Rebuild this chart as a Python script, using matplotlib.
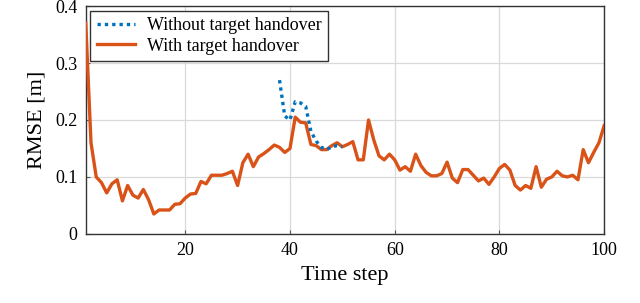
import matplotlib
matplotlib.use("Agg")
import matplotlib.pyplot as plt
import numpy as np

steps = list(range(1, 101))
with_handover = [0.37, 0.16, 0.10, 0.09, 0.072, 0.088, 0.095, 0.058, 0.085, 0.068,
                 0.063, 0.078, 0.060, 0.035, 0.042, 0.042, 0.042, 0.052, 0.053, 0.063,
                 0.070, 0.071, 0.092, 0.088, 0.103, 0.103, 0.103, 0.106, 0.110, 0.085,
                 0.125, 0.140, 0.118, 0.135, 0.141, 0.148, 0.156, 0.152, 0.143, 0.150,
                 0.205, 0.196, 0.195, 0.157, 0.155, 0.148, 0.148, 0.155, 0.160, 0.153,
                 0.157, 0.162, 0.130, 0.130, 0.200, 0.165, 0.137, 0.130, 0.140, 0.130,
                 0.112, 0.118, 0.110, 0.140, 0.120, 0.108, 0.102, 0.102, 0.106, 0.126,
                 0.098, 0.090, 0.113, 0.113, 0.103, 0.093, 0.098, 0.087, 0.100, 0.115,
                 0.122, 0.112, 0.085, 0.077, 0.085, 0.080, 0.118, 0.082, 0.096, 0.100,
                 0.110, 0.102, 0.100, 0.103, 0.095, 0.148, 0.125, 0.143, 0.160, 0.190]
without_steps = [38, 39, 40, 41, 42, 43, 44, 45, 46, 47, 48, 49, 50]
without_handover = [0.27, 0.207, 0.20, 0.232, 0.230, 0.224, 0.180, 0.163, 0.152, 0.148,
                    0.153, 0.155, 0.153]

plt.rcParams['font.family'] = ['Liberation Serif', 'DejaVu Serif']
plt.rcParams['mathtext.fontset'] = 'stix'

fig = plt.figure(figsize=(6.4, 3.03), dpi=100)
ax = fig.add_axes([0.134, 0.228, 0.81, 0.752])

ax.plot(steps, with_handover, color='#D95319', lw=2.4, label='With target handover', zorder=3)
ax.plot(without_steps, without_handover, color='#0072BD', lw=2.4, ls=(0, (1, 1.2)),
        label='Without target handover', zorder=4)

ax.set_xlim(1, 100)
ax.set_ylim(0, 0.4)
ax.set_xticks([20, 40, 60, 80, 100])
ax.set_yticks([0, 0.1, 0.2, 0.3, 0.4])
ax.set_yticklabels(['0', '0.1', '0.2', '0.3', '0.4'])
ax.grid(True, color='#d9d9d9', lw=0.9)
ax.set_axisbelow(True)
ax.tick_params(direction='in', labelsize=13, length=3, color='#555555', pad=6)
for s in ax.spines.values():
    s.set_linewidth(1.0)
    s.set_color('#333333')
ax.set_xlabel('Time step', fontsize=16, labelpad=5)
ax.set_ylabel('RMSE [m]', fontsize=16, labelpad=6)

h, l = ax.get_legend_handles_labels()
leg = ax.legend([h[1], h[0]], [l[1], l[0]], loc='upper left', fontsize=13,
                fancybox=False, edgecolor='#333333', framealpha=1,
                borderaxespad=0.25, handlelength=2.1, labelspacing=0.2,
                borderpad=0.35, handletextpad=0.7)
leg.get_frame().set_linewidth(1.0)

fig.savefig('out.png', dpi=100)
